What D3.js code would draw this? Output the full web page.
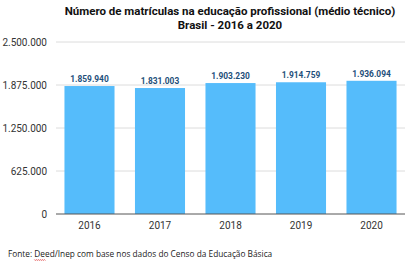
<!DOCTYPE html>
<html>
<head>
<meta charset="utf-8">
<script src="https://cdn.jsdelivr.net/npm/d3@7"></script>
<style>
  body { margin: 0; background: #fff; }
  svg { display: block; font-family: Roboto, "Noto Sans", sans-serif; }
</style>
</head>
<body>
<div id="chart"></div>
<script>
const years = ["2016", "2017", "2018", "2019", "2020"];
const matriculas = [1859940, 1831003, 1903230, 1914759, 1936094];
const yTicks = [0, 625000, 1250000, 1875000, 2500000];

const W = 415, H = 273;
const margin = { top: 42, right: 10, bottom: 59, left: 56 };

// pt-BR style thousands separator
const fmt = d3.formatLocale({ decimal: ",", thousands: ".", grouping: [3], currency: ["R$", ""] }).format(",d");

const svg = d3.select("#chart").append("svg")
  .attr("width", W)
  .attr("height", H);

const x = d3.scaleBand()
  .domain(years)
  .range([margin.left, W - margin.right])
  .paddingInner(0.29)
  .paddingOuter(0.12);

const y = d3.scaleLinear()
  .domain([0, 2500000])
  .range([H - margin.bottom, margin.top]);

// title
svg.append("text")
  .attr("x", 230).attr("y", 15)
  .attr("text-anchor", "middle")
  .attr("font-size", 11.5).attr("font-weight", "bold").attr("fill", "#111")
  .text("Número de matrículas na educação profissional (médio técnico)");
svg.append("text")
  .attr("x", 230).attr("y", 29)
  .attr("text-anchor", "middle")
  .attr("font-size", 11.5).attr("font-weight", "bold").attr("fill", "#111")
  .text("Brasil - 2016 a 2020");

// gridlines
svg.append("g")
  .selectAll("line")
  .data(yTicks.filter(d => d > 0))
  .join("line")
  .attr("x1", margin.left).attr("x2", W - margin.right)
  .attr("y1", d => y(d)).attr("y2", d => y(d))
  .attr("stroke", "#dcdcdc").attr("stroke-width", 1);

// y axis labels
const yAxis = svg.append("g")
  .attr("transform", `translate(${margin.left},0)`)
  .call(d3.axisLeft(y).tickValues(yTicks).tickFormat(fmt).tickSize(0).tickPadding(9));
yAxis.select(".domain").remove();
yAxis.selectAll("text").attr("font-size", 10).attr("fill", "#333").attr("font-family", "Roboto, sans-serif");

// bars
svg.append("g")
  .selectAll("rect")
  .data(matriculas)
  .join("rect")
  .attr("x", (d, i) => x(years[i]))
  .attr("y", d => y(d))
  .attr("width", x.bandwidth())
  .attr("height", d => y(0) - y(d))
  .attr("fill", "#55bcfb");

// value labels
svg.append("g")
  .selectAll("text")
  .data(matriculas)
  .join("text")
  .attr("x", (d, i) => x(years[i]) + x.bandwidth() / 2)
  .attr("y", d => y(d) - 4)
  .attr("text-anchor", "middle")
  .attr("font-size", 8.4).attr("font-weight", "bold").attr("fill", "#1e4f7a")
  .text(d => fmt(d));

// baseline + x axis
const xAxis = svg.append("g")
  .attr("transform", `translate(0,${y(0)})`)
  .call(d3.axisBottom(x).tickSize(0).tickPadding(8));
xAxis.select(".domain").attr("stroke", "#555").attr("stroke-width", 1)
  .attr("d", `M${margin.left},0H${W - margin.right}`);
xAxis.selectAll("text").attr("font-size", 10).attr("fill", "#333").attr("font-family", "Roboto, sans-serif");

// source note
const src = svg.append("text")
  .attr("x", 8).attr("y", 257)
  .attr("font-size", 8.3).attr("fill", "#222")
  .attr("font-family", "'Open Sans', sans-serif");
src.append("tspan").text("Fonte: ");
const deed = src.append("tspan").text("Deed");
src.append("tspan").text("/Inep com base nos dados do Censo da Educação Básica");

// red spellcheck squiggle under "Deed"
const bb = deed.node().getComputedTextLength();
const x0 = 8 + src.node().getSubStringLength(0, 7);
let p = `M${x0},259.5`;
for (let i = 0; i < bb; i += 2) p += `l1,${i % 4 === 0 ? 1 : -1}`;
svg.append("path").attr("d", p).attr("stroke", "#e04040").attr("stroke-width", 0.8).attr("fill", "none");
</script>
</body>
</html>
